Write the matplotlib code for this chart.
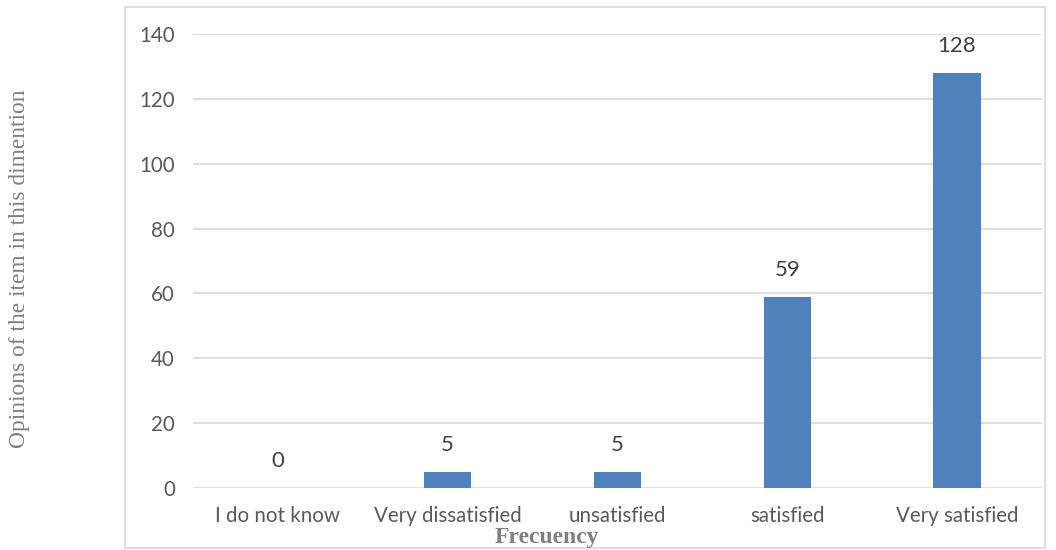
import matplotlib.pyplot as plt
from matplotlib.patches import Rectangle

# chart values
categories = ['I do not know', 'Very dissatisfied', 'unsatisfied', 'satisfied', 'Very satisfied']
frequencies = [0, 5, 5, 59, 128]
y_ticks = [0, 20, 40, 60, 80, 100, 120, 140]

fig = plt.figure(figsize=(10.56, 5.5), dpi=100)
ax = fig.add_axes([0.1828, 0.1127, 0.8039, 0.8255])

# outer frame round the chart
fig.patches.append(Rectangle((125 / 1056, 1 - 548 / 550), 920 / 1056, 541 / 550,
                             transform=fig.transFigure, fill=False,
                             edgecolor='#d9d9d9', linewidth=1.2))

x = list(range(len(categories)))
bars = ax.bar(x, frequencies, width=0.28, color='#4f81bd', zorder=3)

for xi, v in zip(x, frequencies):
    ax.annotate(str(v), (xi, v), xytext=(0, 12), textcoords='offset points',
                ha='center', va='bottom', fontsize=16, color='#404040', family='Lato')

ax.set_xlim(-0.5, len(categories) - 0.5)
ax.set_ylim(0, 140)
ax.set_yticks(y_ticks)
ax.set_xticks(x)
ax.set_xticklabels(categories)
ax.grid(axis='y', color='#d9d9d9', linewidth=1.2, zorder=0)
ax.set_axisbelow(True)
for s in ax.spines.values():
    s.set_visible(False)
ax.tick_params(axis='both', length=0, labelsize=14.8, labelcolor='#595959')
ax.tick_params(axis='x', pad=13)
ax.tick_params(axis='y', pad=13)
for lbl in ax.get_xticklabels() + ax.get_yticklabels():
    lbl.set_family('Lato')

fig.text(20 / 1056, 1 - 269 / 550, 'Opinions of the item in this dimention',
         rotation=90, ha='center', va='center', fontsize=16.8,
         family='Liberation Serif', color='#7f7f7f')
fig.text(547 / 1056, 1 - 538 / 550, 'Frecuency', ha='center', va='center',
         fontsize=17, fontweight='bold', family='Liberation Serif', color='#7f7f7f')

fig.savefig('out.png', dpi=100)
